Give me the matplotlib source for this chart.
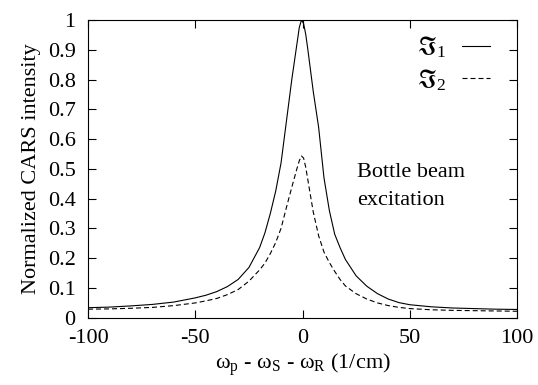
import matplotlib
matplotlib.use("Agg")
import matplotlib.pyplot as plt
from matplotlib.ticker import FixedLocator, FormatStrFormatter

# Figure size (pixels at 100 dpi)
FIG_SIZE_X_INCHES = 5.38
FIG_SIZE_Y_INCHES = 3.85
FONT_SIZE = 16
LEGEND_FONT_SIZE = 18
LINE_WIDTH = 0.8
FONT_CHOICE = "Liberation Serif"

# Raman shift (1/cm)
shift = [-100, -90, -80, -70, -60, -50, -45, -40, -35, -30, -25, -20, -17.5, -15,
         -12.5, -10, -7.5, -5, -2.5, -1.5, -0.5, 0.5, 1.5, 2.5, 5, 7.5, 10, 12.5,
         15, 17.5, 20, 25, 30, 35, 40, 45, 50, 60, 70, 80, 90, 100]
# normalized CARS intensity, first component
intensity_1 = [0.033, 0.035, 0.039, 0.044, 0.052, 0.066, 0.075, 0.087, 0.104, 0.128,
               0.168, 0.235, 0.285, 0.350, 0.425, 0.520, 0.660, 0.800, 0.925, 0.975,
               1.000, 0.988, 0.952, 0.900, 0.760, 0.640, 0.470, 0.360, 0.280, 0.235,
               0.195, 0.140, 0.105, 0.080, 0.062, 0.050, 0.043, 0.036, 0.032, 0.030,
               0.028, 0.027]
# second component
intensity_2 = [0.028, 0.029, 0.031, 0.034, 0.040, 0.049, 0.056, 0.064, 0.077, 0.094,
               0.122, 0.160, 0.183, 0.215, 0.252, 0.300, 0.370, 0.438, 0.503, 0.527,
               0.543, 0.536, 0.505, 0.462, 0.355, 0.275, 0.220, 0.185, 0.155, 0.128,
               0.106, 0.080, 0.062, 0.049, 0.040, 0.034, 0.030, 0.026, 0.024, 0.023,
               0.022, 0.021]

x_ticks = [-100, -50, 0, 50, 100]
y_ticks = [0, 0.1, 0.2, 0.3, 0.4, 0.5, 0.6, 0.7, 0.8, 0.9, 1]
legend_labels = [r'$\Im_1$', r'$\Im_2$']

# Plot configuration
plt.rcParams['font.family'] = [FONT_CHOICE, 'DejaVu Serif']
plt.rcParams['font.size'] = FONT_SIZE
plt.rcParams['axes.linewidth'] = LINE_WIDTH
plt.rcParams['axes.unicode_minus'] = False
plt.rcParams['mathtext.fontset'] = 'custom'
plt.rcParams['mathtext.rm'] = FONT_CHOICE
plt.rcParams['mathtext.it'] = FONT_CHOICE + ':italic'
plt.rcParams['mathtext.fallback'] = 'stix'

fig = plt.figure(figsize=(FIG_SIZE_X_INCHES, FIG_SIZE_Y_INCHES), dpi=100)
ax = fig.add_axes([0.1636, 0.1753, 0.7974, 0.7727])

ax.plot(shift, intensity_1, color='black', linewidth=LINE_WIDTH, label=legend_labels[0])
ax.plot(shift, intensity_2, color='black', linewidth=LINE_WIDTH,
        linestyle=(0, (4.5, 2.7)), label=legend_labels[1])

ax.set_xlim(-100, 100)
ax.set_ylim(0, 1)
ax.xaxis.set_major_locator(FixedLocator(x_ticks))
ax.yaxis.set_major_locator(FixedLocator(y_ticks))
ax.yaxis.set_major_formatter(FormatStrFormatter('%g'))
ax.tick_params(direction='in', top=True, right=True, length=5.8, width=LINE_WIDTH,
               labelsize=FONT_SIZE)
ax.tick_params(axis='y', pad=9)
ax.tick_params(axis='x', pad=8)

ax.set_ylabel('Normalized CARS intensity', labelpad=5)
ax.set_xlabel(r'ω$_\mathrm{p}$ - ω$_\mathrm{S}$ - ω$_\mathrm{R}$ (1/cm)', labelpad=3)

ax.text(25.3, 0.472, 'Bottle beam', ha='left', va='baseline')
ax.text(25.3, 0.378, 'excitation', ha='left', va='baseline')

ax.legend(loc='upper right', bbox_to_anchor=(0.96, 0.985), frameon=False,
          markerfirst=False, handlelength=1.1, handletextpad=0.65,
          labelspacing=0.28, borderaxespad=0, fontsize=LEGEND_FONT_SIZE)

plt.savefig('out.png', dpi=100)
